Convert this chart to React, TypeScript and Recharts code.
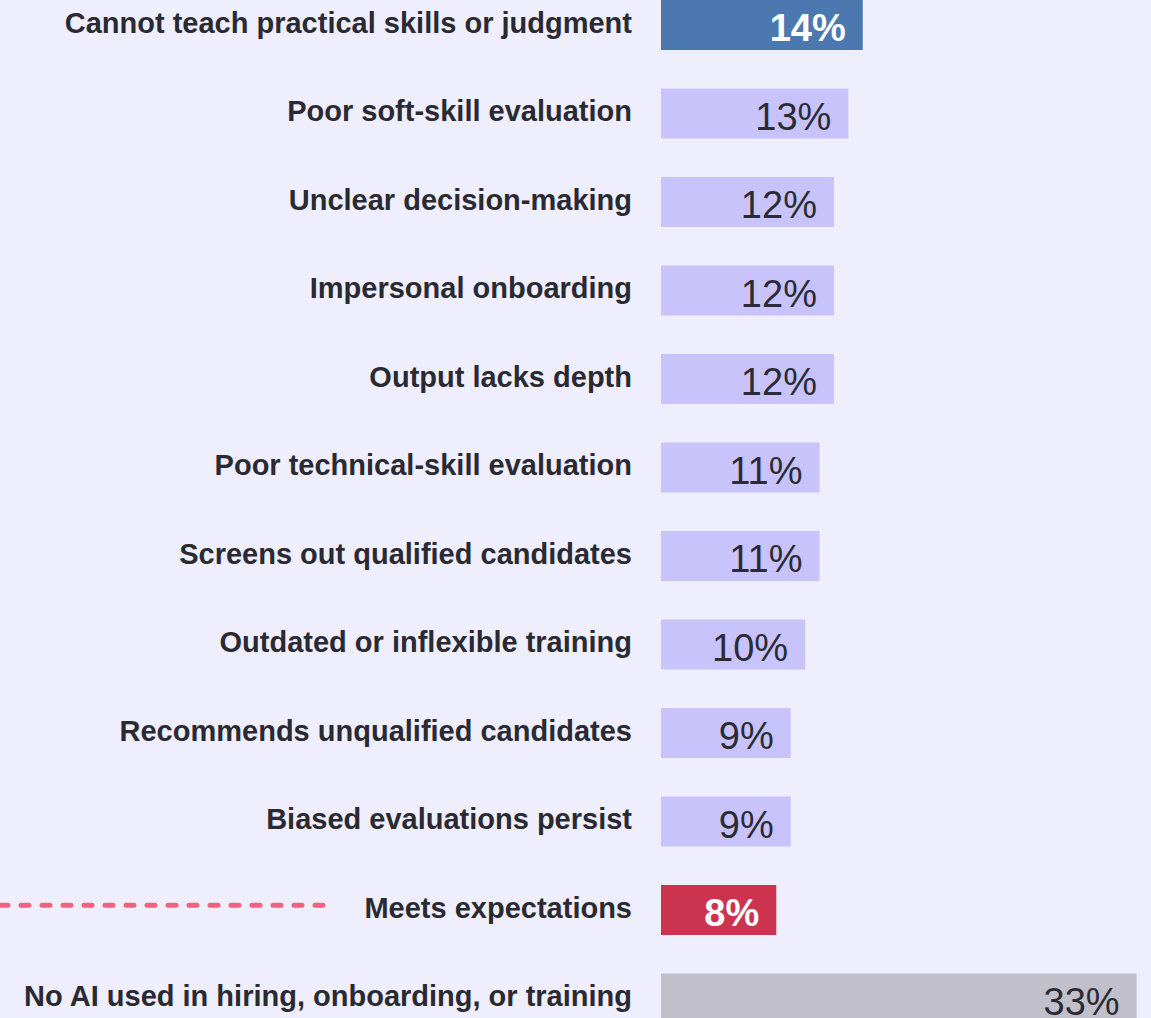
import React from 'react';
import { BarChart, Bar, XAxis, YAxis, Cell, LabelList } from 'recharts';

const categories = [
  'Cannot teach practical skills or judgment',
  'Poor soft-skill evaluation',
  'Unclear decision-making',
  'Impersonal onboarding',
  'Output lacks depth',
  'Poor technical-skill evaluation',
  'Screens out qualified candidates',
  'Outdated or inflexible training',
  'Recommends unqualified candidates',
  'Biased evaluations persist',
  'Meets expectations',
  'No AI used in hiring, onboarding, or training',
];
const values = [14, 13, 12, 12, 12, 11, 11, 10, 9, 9, 8, 33];
const barColors = [
  '#4B78AF', '#C8C3FB', '#C8C3FB', '#C8C3FB', '#C8C3FB', '#C8C3FB',
  '#C8C3FB', '#C8C3FB', '#C8C3FB', '#C8C3FB', '#CC334E', '#C1C0CA',
];
const labelColors = [
  '#FFFFFF', '#2B2B36', '#2B2B36', '#2B2B36', '#2B2B36', '#2B2B36',
  '#2B2B36', '#2B2B36', '#2B2B36', '#2B2B36', '#FFFFFF', '#2B2B36',
];
const labelBold = [true, false, false, false, false, false, false, false, false, false, true, false];
const thresholdCategory = 'Meets expectations';
const xDomain = [0, 34];

const data = categories.map((name, i) => ({ name, value: values[i] }));

const FONT = '"Liberation Sans", Arial, Helvetica, sans-serif';

const CategoryTick = (props: any) => {
  const { x, y, payload } = props;
  const isThreshold = payload.value === thresholdCategory;
  return (
    <g>
      {isThreshold && (
        <line
          x1={0}
          x2={x - 307}
          y1={y - 5}
          y2={y - 5}
          stroke="#F4607F"
          strokeWidth={5}
          strokeDasharray="8 13"
          strokeLinecap="round"
        />
      )}
      <text
        x={x}
        y={y}
        dy={7.3}
        textAnchor="end"
        fontFamily={FONT}
        fontSize={29}
        fontWeight={700}
        fill="#2A2A33"
      >
        {payload.value}
      </text>
    </g>
  );
};

const ValueLabel = (props: any) => {
  const { x, y, width, height, value, index } = props;
  return (
    <text
      x={x + width - 17}
      y={y + height / 2}
      dy={16}
      textAnchor="end"
      fontFamily={FONT}
      fontSize={38}
      fontWeight={labelBold[index] ? 700 : 400}
      fill={labelColors[index]}
    >
      {value}%
    </text>
  );
};

export default function App() {
  return (
    <div
      style={{
        position: 'absolute',
        left: 0,
        top: 0,
        width: 1151,
        height: 1018,
        overflow: 'hidden',
        background: '#EFEEFC',
      }}
    >
      <div style={{ position: 'absolute', left: 0, top: -18.75 }}>
        <BarChart
          layout="vertical"
          width={1151}
          height={1062}
          data={data}
          margin={{ top: 0, right: 0, bottom: 0, left: 0 }}
        >
          <XAxis type="number" domain={xDomain} hide />
          <YAxis
            type="category"
            dataKey="name"
            width={661}
            axisLine={false}
            tickLine={false}
            tickSize={0}
            tickMargin={29}
            tick={<CategoryTick />}
            interval={0}
          />
          <Bar dataKey="value" barSize={50} isAnimationActive={false}>
            {data.map((d, i) => (
              <Cell key={d.name} fill={barColors[i]} />
            ))}
            <LabelList dataKey="value" content={<ValueLabel />} />
          </Bar>
        </BarChart>
      </div>
    </div>
  );
}
